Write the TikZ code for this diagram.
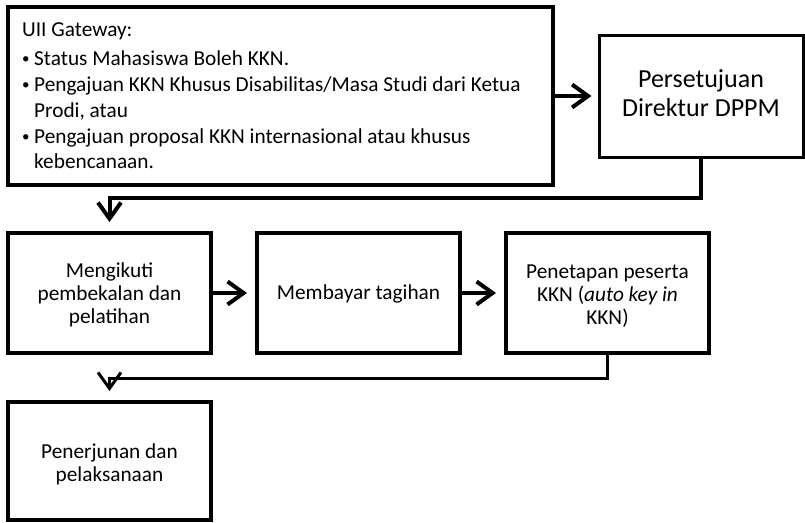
\documentclass[tikz,border=0pt]{standalone}
\usepackage{fontspec}
\setmainfont{Carlito}
\usetikzlibrary{arrows.meta}
\newcommand\mybul{\makebox[12pt][l]{\raisebox{1.5pt}{\fontsize{15}{15}\selectfont •}}}
\tikzset{
  box/.style={draw=black, line width=#1, fill=white, inner sep=0pt},
  box/.default=4pt,
  txtA/.style={font=\fontsize{21.3}{26}\selectfont, anchor=base west, inner sep=0pt},
  txtB/.style={font=\fontsize{26}{28.5}\selectfont, align=center, inner sep=0pt},
  txtC/.style={font=\fontsize{21.3}{23}\selectfont, align=center, inner sep=0pt},
  arr/.style={line width=#1, -{Straight Barb[length=16pt,width=23pt]}},
  arr/.default=4pt
}
\begin{document}
\begin{tikzpicture}[x=1pt,y=-1pt]
\useasboundingbox (0,0) rectangle (805,522);
% boxes
\node[box, minimum width=545pt, minimum height=178pt] (b1) at (280.5,96) {};
\node[box=3pt, minimum width=204pt, minimum height=122pt] (b2) at (701,96) {};
\node[box, minimum width=203pt, minimum height=120pt] (b3) at (109.5,293) {};
\node[box, minimum width=203pt, minimum height=120pt] (b4) at (358.5,293) {};
\node[box, minimum width=203pt, minimum height=120pt] (b5) at (607.5,293) {};
\node[box, minimum width=203pt, minimum height=118pt] (b6) at (109.5,461) {};
% box 1 text
\node[txtA] (t1) at (22,36) {UII Gateway:};
\node[txtA] (t2) at (22,65) {\mybul Status Mahasiswa Boleh KKN.};
\node[txtA] (t3) at (22,91) {\mybul Pengajuan KKN Khusus Disabilitas/Masa Studi dari Ketua};
\node[txtA] (t4) at (34,117) {Prodi, atau};
\node[txtA] (t5) at (22,143) {\mybul Pengajuan proposal KKN internasional atau khusus};
\node[txtA] (t6) at (34,168) {kebencanaan.};
% other texts
\node[txtB] (t7) at (701,93) {Persetujuan\\Direktur DPPM};
\node[txtC] (t8) at (109.5,295) {Mengikuti\\pembekalan dan\\pelatihan};
\node[txtC] (t9) at (358.5,294) {Membayar tagihan};
\node[txtC] (t10) at (607.5,296) {Penetapan peserta\\KKN (\textit{auto key in}\\KKN)};
\node[txtC] (t11) at (109.5,464) {Penerjunan dan\\pelaksanaan};
% connectors
\draw[arr, shorten >=6pt] (b1.east) -- (b2.west);
\draw[arr, shorten >=9pt] (b2.south) -- ++(0,39) -| (b3.north);
\draw[arr, shorten >=8pt] (b3.east) -- (b4.west);
\draw[arr, shorten >=8pt] (b4.east) -- (b5.west);
\draw[arr=3pt, shorten >=9pt] (b5.south) -- ++(0,23) -| (b6.north);
\end{tikzpicture}
\end{document}
